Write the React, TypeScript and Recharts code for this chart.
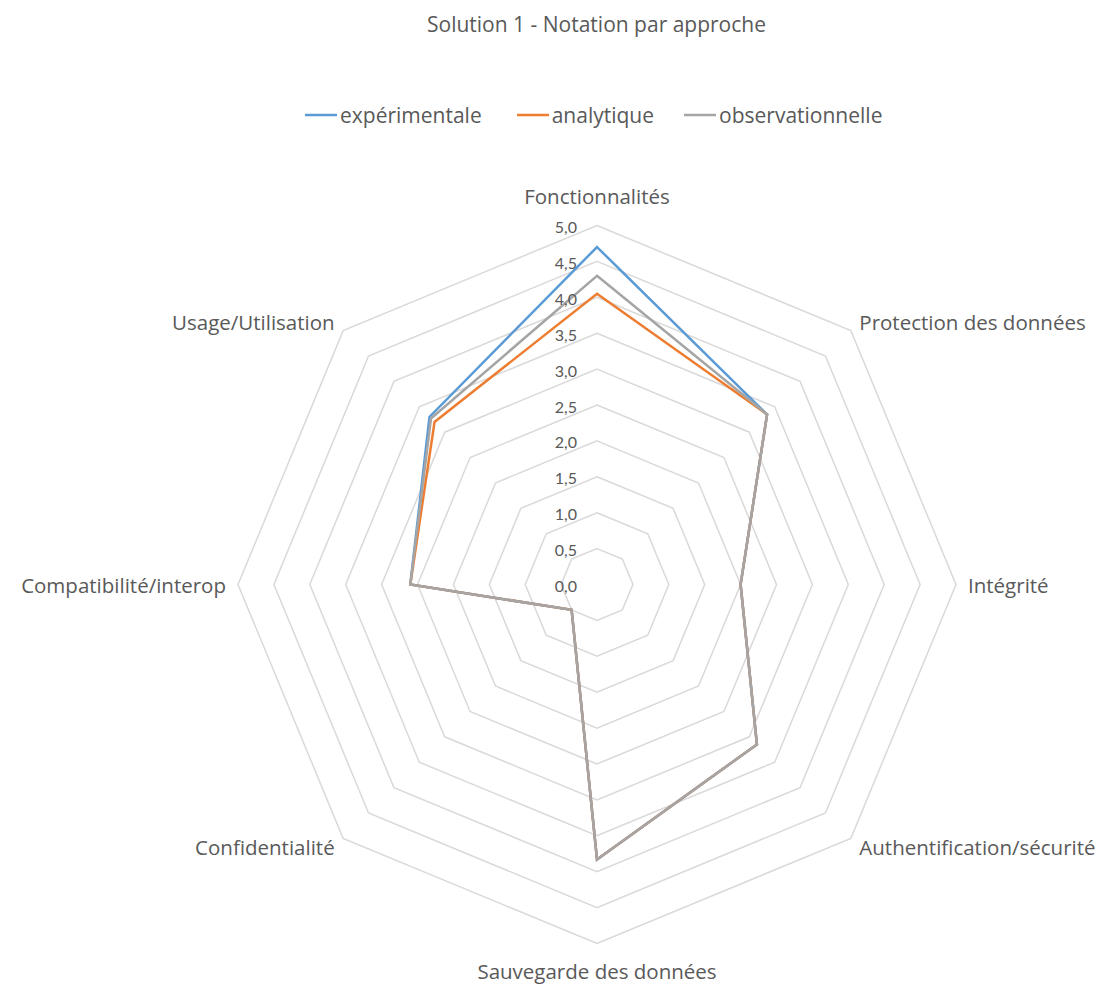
import React from 'react';
import { RadarChart, Radar, PolarGrid, PolarAngleAxis, PolarRadiusAxis } from 'recharts';

const title = 'Solution 1 - Notation par approche';

const categories = [
  'Fonctionnalités',
  'Protection des données',
  'Intégrité',
  'Authentification/sécurité',
  'Sauvegarde des données',
  'Confidentialité',
  'Compatibilité/interop',
  'Usage/Utilisation',
];

const experimentale = [4.7, 3.35, 2.0, 3.15, 3.83, 0.5, 2.6, 3.3];
const analytique = [4.05, 3.35, 2.0, 3.15, 3.83, 0.5, 2.6, 3.2];
const observationnelle = [4.3, 3.35, 2.0, 3.15, 3.83, 0.5, 2.6, 3.27];

const seriesKeys = ['experimentale', 'analytique', 'observationnelle'];
const seriesNames = ['expérimentale', 'analytique', 'observationnelle'];
const seriesColors = ['#5b9bd5', '#ed7d31', '#a5a5a5'];

const radiusTicks = [0, 0.5, 1, 1.5, 2, 2.5, 3, 3.5, 4, 4.5, 5];

const data = categories.map((category, i) => ({
  category,
  experimentale: experimentale[i],
  analytique: analytique[i],
  observationnelle: observationnelle[i],
}));

const W = 1089;
const H = 977;
const CX = 589;
const CY = 576.5;
const R = 359;
const FONT = '"Open Sans", Lato, sans-serif';
const TICK_FONT = 'Lato, "Open Sans", sans-serif';
const TEXT = '#595959';

function AngleTick(props: any) {
  const { x, y, payload } = props;
  const dx = x - CX;
  const dy = y - CY;
  const len = Math.sqrt(dx * dx + dy * dy) || 1;
  const ux = dx / len;
  const uy = dy / len;
  const vertical = Math.abs(ux) < 0.01;
  const d = vertical ? (uy > 0 ? 27 : 30) : 12;
  const tx = CX + (R + d) * ux;
  const ty = CY + (R + d) * uy;
  const anchor = vertical ? 'middle' : ux > 0 ? 'start' : 'end';
  return (
    <text
      x={tx}
      y={ty}
      textAnchor={anchor}
      dominantBaseline="central"
      fill={TEXT}
      fontSize={20.5}
      fontFamily={FONT}
    >
      {payload.value}
    </text>
  );
}

function RadiusTick(props: any) {
  const { x, y, payload } = props;
  const v = Number(payload.value);
  return (
    <text
      x={x - 20}
      y={y + 1}
      textAnchor="end"
      dominantBaseline="central"
      fill={TEXT}
      fontSize={16}
      fontFamily={TICK_FONT}
    >
      {v.toFixed(1).replace('.', ',')}
    </text>
  );
}

export default function App() {
  return (
    <div style={{ position: 'relative', width: W, height: H, background: '#fff', fontFamily: FONT }}>
      <style>{'html { overflow: hidden; } .recharts-wrapper, .recharts-surface { overflow: visible !important; }'}</style>
      <div
        style={{
          position: 'absolute',
          left: 588.5,
          top: 3,
          transform: 'translateX(-50%)',
          whiteSpace: 'nowrap',
          fontSize: 21,
          lineHeight: '26px',
          color: TEXT,
        }}
      >
        {title}
      </div>
      <div
        style={{
          position: 'absolute',
          left: 297,
          top: 94,
          display: 'flex',
          alignItems: 'center',
          height: 26,
          whiteSpace: 'nowrap',
          fontSize: 21,
          color: TEXT,
        }}
      >
        {seriesNames.map((name, i) => (
          <div key={name} style={{ display: 'flex', alignItems: 'center', marginRight: i === 0 ? 35 : 30 }}>
            <svg width={32} height={4} style={{ marginRight: 3 }}>
              <line x1={0} y1={2} x2={32} y2={2} stroke={seriesColors[i]} strokeWidth={2.5} />
            </svg>
            <span>{name}</span>
          </div>
        ))}
      </div>
      <div style={{ position: 'absolute', left: 0, top: 0 }}>
        <RadarChart
          width={W}
          height={H}
          data={data}
          cx={CX}
          cy={CY}
          outerRadius={R}
          margin={{ top: 0, right: 0, bottom: 0, left: 0 }}
        >
          <PolarGrid gridType="polygon" radialLines={false} stroke="#d9d9d9" strokeWidth={1.5} />
          <PolarAngleAxis dataKey="category" tick={AngleTick} tickLine={false} axisLine={false} />
          <PolarRadiusAxis
            angle={90}
            domain={[0, 5]}
            ticks={radiusTicks as any}
            tickCount={11}
            type="number"
            tick={RadiusTick}
            axisLine={false}
            tickLine={false}
          />
          {seriesKeys.map((k, i) => (
            <Radar
              key={k}
              name={seriesNames[i]}
              dataKey={k}
              stroke={seriesColors[i]}
              strokeWidth={2.5}
              fill="none"
              fillOpacity={0}
              dot={false}
              isAnimationActive={false}
            />
          ))}
        </RadarChart>
      </div>
    </div>
  );
}
